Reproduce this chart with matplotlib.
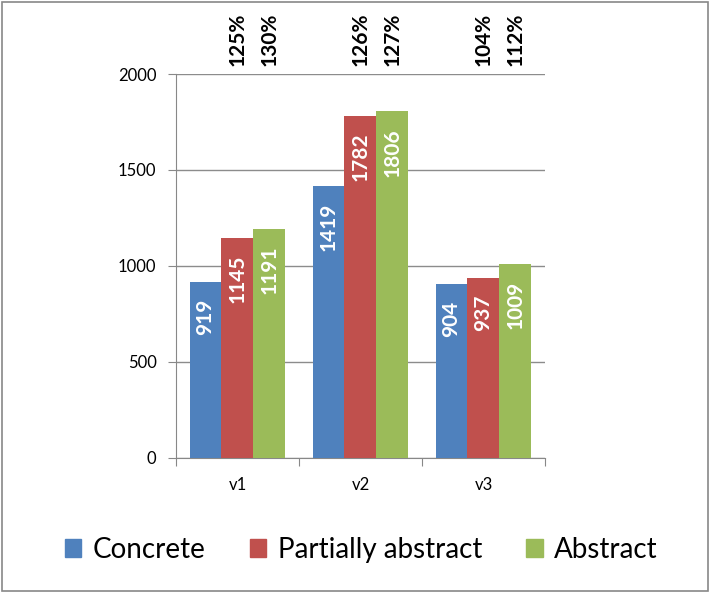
import numpy as np
import matplotlib.pyplot as plt
from matplotlib.patches import Rectangle, Patch
from matplotlib.transforms import blended_transform_factory

plt.rcParams["font.family"] = ["Lato", "DejaVu Sans"]

categories = ["v1", "v2", "v3"]
series = ["Concrete", "Partially abstract", "Abstract"]
concrete = [919, 1419, 904]
partial = [1145, 1782, 937]
abstract = [1191, 1806, 1009]
colors = ["#4F81BD", "#C0504D", "#9BBB59"]

fig = plt.figure(figsize=(7.11, 5.93), dpi=100)
ax = fig.add_axes([0.2475, 0.2277, 0.519, 0.6475])

x = np.arange(len(categories))
w = 0.26
values = [concrete, partial, abstract]
for i, (vals, c) in enumerate(zip(values, colors)):
    xs = x + (i - 1) * w
    ax.bar(xs, vals, w, color=c, zorder=3)
    for xi, v in zip(xs, vals):
        ax.annotate(str(v), (xi, v), xytext=(0, -12), textcoords="offset points",
                    rotation=90, ha="center", va="top", color="white",
                    fontsize=15, fontweight="bold", zorder=4)

# ratio to concrete, printed above the plot
trans = blended_transform_factory(ax.transData, ax.transAxes)
for i in (1, 2):
    for xi, base, v in zip(x + (i - 1) * w, concrete, values[i]):
        ax.annotate(f"{round(v / base * 100)}%", (xi, 1), xycoords=trans,
                    xytext=(0, 6), textcoords="offset points", rotation=90,
                    ha="center", va="bottom", fontsize=15, fontweight="bold",
                    annotation_clip=False)

ax.set_xlim(-0.5, 2.5)
ax.set_ylim(0, 2000)
ax.set_yticks([0, 500, 1000, 1500, 2000])
ax.set_xticks([-0.5, 0.5, 1.5, 2.5])
ax.set_xticklabels([])
ax.set_xticks(x, minor=True)
ax.set_xticklabels(categories, minor=True)
ax.tick_params(axis="x", which="minor", length=0, pad=14, labelsize=12)
ax.tick_params(axis="x", which="major", length=6, color="#888888")
ax.tick_params(axis="y", length=6, color="#888888", labelsize=12, pad=8)
ax.yaxis.grid(True, color="#8c8c8c", linewidth=1, zorder=0)
for s in ("top", "right"):
    ax.spines[s].set_visible(False)
for s in ("left", "bottom"):
    ax.spines[s].set_color("#888888")

handles = [Patch(color=c) for c in colors]
fig.legend(handles, series, loc="center", bbox_to_anchor=(0.508, 0.073), ncol=3,
           frameon=False, fontsize=20, handlelength=0.6, handleheight=0.6,
           handletextpad=0.4, columnspacing=1.6)

fig.patches.append(Rectangle((0.003, 0.004), 0.993, 0.992, transform=fig.transFigure,
                             fill=False, edgecolor="#888888", linewidth=1.2))

fig.savefig("out.png", dpi=100)
